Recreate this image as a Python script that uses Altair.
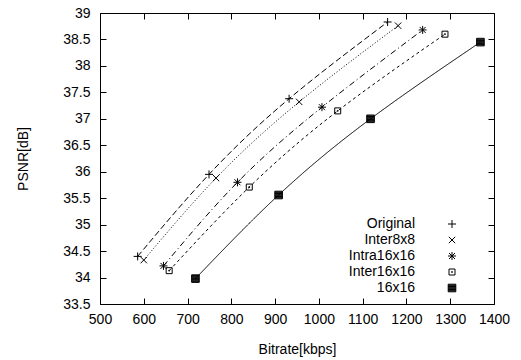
import altair as alt
import pandas as pd

series = ["Original", "Inter8x8", "Intra16x16", "Inter16x16", "16x16"]
orig_x = [586, 749, 932, 1157]
orig_y = [34.40, 35.95, 37.38, 38.83]
i8_x = [600, 765, 955, 1181]
i8_y = [34.33, 35.88, 37.32, 38.76]
intra_x = [645, 814, 1007, 1237]
intra_y = [34.22, 35.80, 37.22, 38.68]
i16_x = [658, 841, 1043, 1288]
i16_y = [34.13, 35.71, 37.15, 38.60]
b16_x = [718, 908, 1118, 1369]
b16_y = [33.98, 35.56, 37.00, 38.45]

xs = [orig_x, i8_x, intra_x, i16_x, b16_x]
ys = [orig_y, i8_y, intra_y, i16_y, b16_y]
rows = []
for name, xv, yv in zip(series, xs, ys):
    for a, b in zip(xv, yv):
        rows.append({"series": name, "bitrate": a, "psnr": b})
df = pd.DataFrame(rows)

x_ticks = [500, 600, 700, 800, 900, 1000, 1100, 1200, 1300, 1400]
y_ticks = [33.5, 34, 34.5, 35, 35.5, 36, 36.5, 37, 37.5, 38, 38.5, 39]

# marker glyphs (stroke-only paths; the solid square is drawn as a dense hatch)
solid_square = "M-0.95,-0.95H0.95V0.95H-0.95Z" + "".join(
    "M-0.95,%.2fH0.95" % (-0.95 + 0.19 * k) for k in range(1, 10)
)
shapes = [
    "M-1,0H1M0,-1V1",
    "M-0.8,-0.8L0.8,0.8M-0.8,0.8L0.8,-0.8",
    "M-1,0H1M0,-1V1M-0.75,-0.75L0.75,0.75M-0.75,0.75L0.75,-0.75",
    "M-0.75,-0.75H0.75V0.75H-0.75ZM-0.1,-0.1H0.1V0.1H-0.1Z",
    solid_square,
]
dashes = [[6, 3], [1, 2], [6, 3, 1, 3], [3, 3], [1, 0]]

xscale = alt.Scale(domain=[500, 1400], nice=False, zero=False)
yscale = alt.Scale(domain=[33.5, 39], nice=False, zero=False)

font = "Liberation Sans"

legend = alt.Legend(title=None, orient="none", legendX=306, legendY=204,
                    direction="vertical",
                    labelAlign="right", labelOffset={"expr": "-44"}, symbolOffset=39,
                    rowPadding=2, symbolSize=64, symbolStrokeColor="black",
                    symbolStrokeWidth=1, symbolFillColor="transparent", padding=0,
                    labelFontSize=14, labelFont=font, labelColor="black")

x_bottom = alt.X("bitrate:Q", scale=xscale, title="Bitrate[kbps]",
                 axis=alt.Axis(orient="bottom", values=x_ticks, offset=-6, tickSize=6, format="d",
                               labelOverlap=False, labelFlush=False,
                               labelPadding=8, titlePadding=16, domain=False, grid=False))
y_left = alt.Y("psnr:Q", scale=yscale, title="PSNR[dB]",
               axis=alt.Axis(orient="left", values=y_ticks, offset=-6, tickSize=6,
                             labelOverlap=False, labelFlush=False,
                             labelPadding=10, titlePadding=32, domain=False, grid=False,
                             labelExpr="format(datum.value, '~g')"))

line_layers = []
for i, (name, dash) in enumerate(zip(series, dashes)):
    if i == 0:
        enc = dict(x=x_bottom, y=y_left)
    else:
        enc = dict(x=alt.X("bitrate:Q", scale=xscale, axis=None),
                   y=alt.Y("psnr:Q", scale=yscale, axis=None))
    line_layers.append(
        alt.Chart(df).transform_filter(alt.datum.series == name)
        .mark_line(color="black", strokeWidth=1, strokeDash=dash, interpolate="natural")
        .encode(**enc)
    )

points = alt.Chart(df).mark_point(color="black", filled=False, strokeWidth=1, opacity=1, size=64).encode(
    x=alt.X("bitrate:Q", scale=xscale, title=None,
            axis=alt.Axis(orient="top", values=x_ticks, offset=-6, tickSize=6,
                          labels=False, domain=False, grid=False)),
    y=alt.Y("psnr:Q", scale=yscale, title=None,
            axis=alt.Axis(orient="right", values=y_ticks, offset=-6, tickSize=6,
                          labels=False, domain=False, grid=False)),
    shape=alt.Shape("series:N", scale=alt.Scale(domain=series, range=shapes), legend=legend),
)

chart = alt.layer(*line_layers, points).resolve_axis(x="independent", y="independent").properties(
    width=394, height=291,
    background="white",
    autosize=alt.AutoSizeParams(type="none"),
    padding={"left": 100, "top": 13, "right": 27, "bottom": 56},
).configure_view(stroke="black", strokeWidth=1).configure_axis(
    labelFont=font, labelFontSize=14, labelColor="black", tickColor="black",
    titleFont=font, titleFontSize=14, titleFontWeight="normal", titleColor="black",
    tickWidth=1,
)

chart.save("out.html", embed_options={"renderer": "svg", "actions": False})
